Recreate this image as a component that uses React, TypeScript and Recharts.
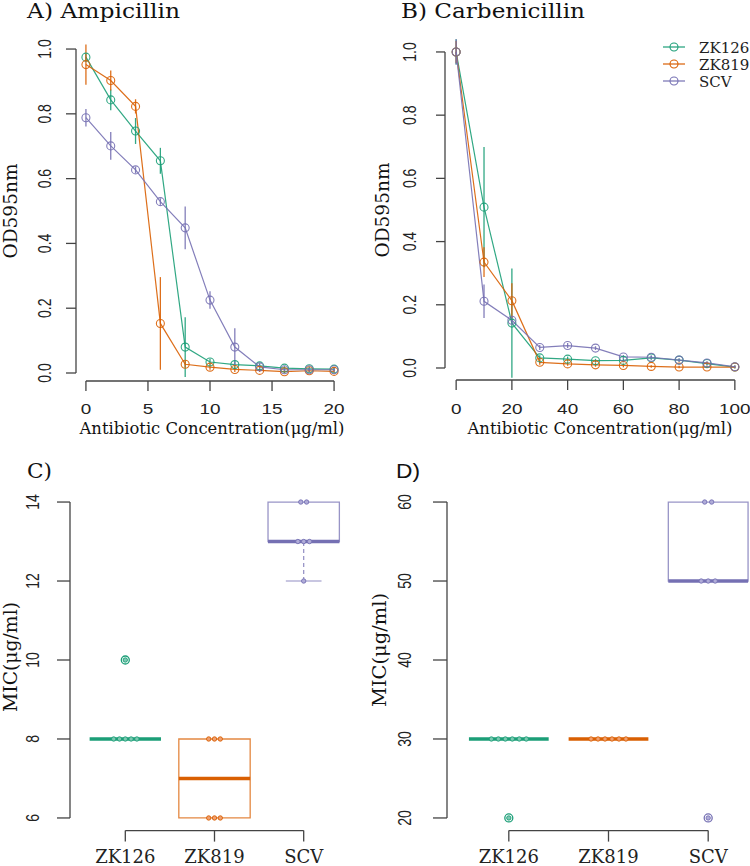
import React from "react";
import {
  LineChart,
  Line,
  XAxis,
  YAxis,
  ErrorBar,
  ReferenceLine,
  ReferenceArea,
  Legend,
  ComposedChart,
  Scatter,
} from "recharts";

const GREEN = "#1B9E77";
const ORANGE = "#D95F02";
const PURPLE = "#7570B3";
const AXIS = "#444";
const SANS = "'Liberation Sans', Arial, sans-serif";
const SERIF = "'DejaVu Serif', serif";

// A) Ampicillin
const ampConc = [0, 2, 4, 6, 8, 10, 12, 14, 16, 18, 20];
const ampZK126 = [0.975, 0.843, 0.747, 0.655, 0.08, 0.034, 0.026, 0.022, 0.015, 0.013, 0.012];
const ampZK126Err = [0.01, 0.032, 0.04, 0.04, 0.092, 0.01, 0.01, 0.008, 0.006, 0.006, 0.006];
const ampZK819 = [0.952, 0.903, 0.823, 0.153, 0.027, 0.018, 0.011, 0.008, 0.004, 0.007, 0.005];
const ampZK819Err = [0.062, 0.031, 0.022, 0.143, 0.01, 0.008, 0.008, 0.005, 0.005, 0.005, 0.005];
const ampSCV = [0.788, 0.701, 0.627, 0.529, 0.448, 0.225, 0.08, 0.019, 0.01, 0.01, 0.01];
const ampSCVErr = [0.027, 0.043, 0.01, 0.01, 0.066, 0.027, 0.058, 0.006, 0.005, 0.006, 0.006];

// B) Carbenicillin
const carbConc = [0, 10, 20, 30, 40, 50, 60, 70, 80, 90, 100];
const carbZK126 = [1.0, 0.509, 0.142, 0.032, 0.028, 0.023, 0.024, 0.032, 0.025, 0.014, 0.003];
const carbZK126Err = [0.04, 0.19, 0.173, 0.008, 0.008, 0.006, 0.006, 0.006, 0.005, 0.006, 0.005];
const carbZK819 = [1.0, 0.335, 0.213, 0.018, 0.013, 0.01, 0.008, 0.005, 0.003, 0.003, 0.003];
const carbZK819Err = [0.035, 0.047, 0.055, 0.008, 0.006, 0.006, 0.006, 0.004, 0.004, 0.004, 0.004];
const carbSCV = [1.0, 0.211, 0.151, 0.065, 0.071, 0.063, 0.035, 0.034, 0.025, 0.016, 0.004];
const carbSCVErr = [0.04, 0.053, 0.01, 0.008, 0.008, 0.006, 0.006, 0.006, 0.005, 0.005, 0.004];

// C) / D) MIC
const strains = ["ZK126", "ZK819", "SCV"];
const strainColors = [GREEN, ORANGE, PURPLE];
const dotFills = ["#7cc9b1", "#f0a070", "#b0acd8"];

const ampMicZK126 = [8, 8, 8, 8, 8, 10];
const ampMicZK819 = [8, 8, 8, 6, 6, 6];
const ampMicSCV = [14, 14, 13, 13, 13, 12];
const ampQ1 = [8, 6, 13];
const ampMedian = [8, 7, 13];
const ampQ3 = [8, 8, 14];
const ampWhiskerLow = [8, 6, 12];
const ampOutliers = [[10], [], []];

const carbMicZK126 = [30, 30, 30, 30, 30, 30, 20];
const carbMicZK819 = [30, 30, 30, 30, 30, 30];
const carbMicSCV = [60, 60, 50, 50, 50, 20];
const carbQ1 = [30, 30, 50];
const carbMedian = [30, 30, 50];
const carbQ3 = [30, 30, 60];
const carbWhiskerLow = [30, 30, 50];
const carbOutliers = [[20], [], [20]];

const ampTable = ampConc.map((x, i) => ({
  x,
  zk126: ampZK126[i],
  zk126Err: ampZK126Err[i],
  zk819: ampZK819[i],
  zk819Err: ampZK819Err[i],
  scv: ampSCV[i],
  scvErr: ampSCVErr[i],
}));

const carbTable = carbConc.map((x, i) => ({
  x,
  zk126: carbZK126[i],
  zk126Err: carbZK126Err[i],
  zk819: carbZK819[i],
  zk819Err: carbZK819Err[i],
  scv: carbSCV[i],
  scvErr: carbSCVErr[i],
}));

const series = [
  { key: "zk126", name: "ZK126", color: GREEN },
  { key: "zk819", name: "ZK819", color: ORANGE },
  { key: "scv", name: "SCV", color: PURPLE },
];

const XNumTick = ({ x, y, payload }: any) => (
  <text
    transform={`translate(${x},${y}) scale(1.35,1)`}
    textAnchor="middle"
    dy="0.71em"
    fontFamily={SANS}
    fontSize={14}
    fill="#222"
  >
    {payload.value}
  </text>
);

const makeYTick = (digits: number) => ({ x, y, payload }: any) => (
  <text
    transform={`translate(${x},${y}) rotate(-90) scale(1,1.25)`}
    textAnchor="middle"
    fontFamily={SANS}
    fontSize={14}
    fill="#222"
  >
    {Number(payload.value).toFixed(digits)}
  </text>
);

const CategoryTick = ({ x, y, payload }: any) => (
  <text x={x} y={y} dy="0.71em" textAnchor="middle" fontFamily={SERIF} fontSize={18} fill="#222">
    {strains[payload.value - 1]}
  </text>
);

const LegendBox = (props: any) => {
  const order = series.map((s) => s.name);
  const items = [...(props.payload || [])].sort(
    (a: any, b: any) => order.indexOf(a.value) - order.indexOf(b.value)
  );
  return (
    <svg width={90} height={54} style={{ display: "block", overflow: "visible" }}>
      {items.map((p: any, i: number) => (
        <g key={p.value}>
          <line x1={0} x2={22} y1={9 + i * 17} y2={9 + i * 17} stroke={p.color} strokeWidth={1.2} />
          <circle cx={11} cy={9 + i * 17} r={4} fill="none" stroke={p.color} strokeWidth={1.1} />
          <text x={36} y={14.5 + i * 17} fontFamily={SERIF} fontSize={15} fill="#222">
            {p.value}
          </text>
        </g>
      ))}
    </svg>
  );
};

function CurvePanel(props: any) {
  const { data, width, height, margin, yWidth, xHeight, xDomain, yDomain, xTicks, yTicks, ySize, xSize, yMargin, xMargin, legend } = props;
  return (
    <LineChart width={width} height={height} data={data} margin={margin}>
      <XAxis
        dataKey="x"
        type="number"
        domain={xDomain}
        ticks={xTicks}
        axisLine={false}
        tickLine={{ stroke: AXIS, strokeWidth: 1.3 }}
        tickSize={xSize}
        tickMargin={xMargin}
        height={xHeight}
        tick={<XNumTick />}
        interval={0}
      />
      <YAxis
        type="number"
        domain={yDomain}
        ticks={yTicks}
        axisLine={false}
        tickLine={{ stroke: AXIS, strokeWidth: 1.3 }}
        tickSize={ySize}
        tickMargin={yMargin}
        width={yWidth}
        tick={makeYTick(1)}
        interval={0}
        allowDataOverflow
      />
      <ReferenceLine
        segment={[{ x: xTicks[0], y: yDomain[0] }, { x: xTicks[xTicks.length - 1], y: yDomain[0] }]}
        stroke={AXIS}
        strokeWidth={1.3}
        ifOverflow="visible"
      />
      <ReferenceLine
        segment={[{ x: xDomain[0], y: yTicks[0] }, { x: xDomain[0], y: yTicks[yTicks.length - 1] }]}
        stroke={AXIS}
        strokeWidth={1.3}
        ifOverflow="visible"
      />
      {series.map((s) => (
        <Line
          key={s.key}
          dataKey={s.key}
          name={s.name}
          type="linear"
          stroke={s.color}
          strokeOpacity={0.9}
          strokeWidth={1.2}
          dot={{ r: 4, fill: "none", stroke: s.color, strokeWidth: 1.1, strokeOpacity: 0.9 }}
          activeDot={false}
          isAnimationActive={false}
        >
          <ErrorBar
            dataKey={s.key + "Err"}
            direction="y"
            width={0}
            stroke={s.color}
            strokeOpacity={0.9}
            strokeWidth={1.3}
            isAnimationActive={false}
          />
        </Line>
      ))}
      {legend && (
        <Legend
          layout="vertical"
          verticalAlign="top"
          align="right"
          content={<LegendBox />}
          wrapperStyle={{
            position: "absolute",
            top: 38,
            left: 288,
            right: "auto",
            bottom: "auto",
            width: 0,
            height: 0,
            overflow: "visible",
          }}
        />
      )}
    </LineChart>
  );
}

function swarm(values: number[], group: number, spacing: number) {
  const counts: Record<number, number> = {};
  values.forEach((v) => (counts[v] = (counts[v] || 0) + 1));
  const seen: Record<number, number> = {};
  return values.map((v) => {
    const k = (seen[v] = (seen[v] ?? -1) + 1);
    return { x: group + (k - (counts[v] - 1) / 2) * spacing, y: v };
  });
}

function BoxPanel(props: any) {
  const { width, height, margin, yWidth, xHeight, yDomain, yTicks, ySize, yMargin, values, q1, median, q3, whiskerLow, outliers, spacing } = props;
  const xDomain = [0.38, 3.62];
  const half = 0.4;
  return (
    <ComposedChart width={width} height={height} margin={margin}>
      <XAxis
        dataKey="x"
        type="number"
        domain={xDomain}
        ticks={[1, 2, 3]}
        axisLine={false}
        tickLine={{ stroke: AXIS, strokeWidth: 1.3 }}
        tickSize={11}
        tickMargin={9}
        height={xHeight}
        tick={<CategoryTick />}
        interval={0}
        allowDataOverflow
      />
      <YAxis
        dataKey="y"
        type="number"
        domain={yDomain}
        ticks={yTicks}
        axisLine={false}
        tickLine={{ stroke: AXIS, strokeWidth: 1.3 }}
        tickSize={ySize}
        tickMargin={yMargin}
        width={yWidth}
        tick={makeYTick(0)}
        interval={0}
        allowDataOverflow
      />
      <ReferenceLine
        segment={[{ x: 1, y: yDomain[0] }, { x: 3, y: yDomain[0] }]}
        stroke={AXIS}
        strokeWidth={1.3}
        ifOverflow="visible"
      />
      <ReferenceLine
        segment={[{ x: xDomain[0], y: yTicks[0] }, { x: xDomain[0], y: yTicks[yTicks.length - 1] }]}
        stroke={AXIS}
        strokeWidth={1.3}
        ifOverflow="visible"
      />
      {strains.map((s, i) =>
        q3[i] > q1[i] ? (
          <ReferenceArea
            key={"box" + s}
            x1={i + 1 - half}
            x2={i + 1 + half}
            y1={q1[i]}
            y2={q3[i]}
            fill="none"
            fillOpacity={0}
            stroke={strainColors[i]}
            strokeOpacity={0.75}
            strokeWidth={1.3}
            ifOverflow="visible"
          />
        ) : null
      )}
      {strains.map((s, i) =>
        whiskerLow[i] < q1[i] ? (
          <ReferenceLine
            key={"wh" + s}
            segment={[{ x: i + 1, y: whiskerLow[i] }, { x: i + 1, y: q1[i] }]}
            stroke={strainColors[i]}
            strokeOpacity={0.8}
            strokeWidth={1.2}
            strokeDasharray="4 3"
            ifOverflow="visible"
          />
        ) : null
      )}
      {strains.map((s, i) =>
        whiskerLow[i] < q1[i] ? (
          <ReferenceLine
            key={"st" + s}
            segment={[{ x: i + 1 - half / 2, y: whiskerLow[i] }, { x: i + 1 + half / 2, y: whiskerLow[i] }]}
            stroke={strainColors[i]}
            strokeOpacity={0.8}
            strokeWidth={1.2}
            ifOverflow="visible"
          />
        ) : null
      )}
      {strains.map((s, i) => (
        <ReferenceLine
          key={"med" + s}
          segment={[{ x: i + 1 - half, y: median[i] }, { x: i + 1 + half, y: median[i] }]}
          stroke={strainColors[i]}
          strokeWidth={3.5}
          ifOverflow="visible"
        />
      ))}
      {strains.map((s, i) => (
        <Scatter
          key={"out" + s}
          data={outliers[i].map((v: number) => ({ x: i + 1, y: v }))}
          isAnimationActive={false}
          shape={(p: any) => (
            <circle cx={p.cx} cy={p.cy} r={4} fill="none" stroke={strainColors[i]} strokeWidth={1.3} />
          )}
        />
      ))}
      {strains.map((s, i) => (
        <Scatter
          key={"pts" + s}
          data={swarm(values[i], i + 1, spacing)}
          isAnimationActive={false}
          shape={(p: any) => (
            <circle cx={p.cx} cy={p.cy} r={2.2} fill={dotFills[i]} stroke={strainColors[i]} strokeWidth={0.9} />
          )}
        />
      ))}
    </ComposedChart>
  );
}

export default function App() {
  const axisTitle = "Antibiotic Concentration(\u03bcg/ml)";
  const text = { fontFamily: SERIF, fill: "#111" } as const;
  return (
    <div style={{ position: "absolute", left: 0, top: 0, width: 750, height: 866, overflow: "hidden", background: "#fff" }}>
      <div style={{ position: "absolute", left: 0, top: 0 }}>
        <CurvePanel
          data={ampTable}
          width={375}
          height={430}
          margin={{ top: 39, right: 31, bottom: 0, left: 0 }}
          yWidth={76}
          xHeight={49}
          xDomain={[-0.8, 20.8]}
          yDomain={[-0.0247, 1.031]}
          xTicks={[0, 5, 10, 15, 20]}
          yTicks={[0, 0.2, 0.4, 0.6, 0.8, 1.0]}
          ySize={10}
          yMargin={15}
          xSize={10}
          xMargin={13}
        />
      </div>
      <div style={{ position: "absolute", left: 375, top: 0 }}>
        <CurvePanel
          data={carbTable}
          width={375}
          height={430}
          margin={{ top: 39, right: 4, bottom: 0, left: 0 }}
          yWidth={70}
          xHeight={50}
          xDomain={[-4, 104]}
          yDomain={[-0.038, 1.041]}
          xTicks={[0, 20, 40, 60, 80, 100]}
          yTicks={[0, 0.2, 0.4, 0.6, 0.8, 1.0]}
          ySize={9}
          yMargin={20}
          xSize={10}
          xMargin={14}
          legend
        />
      </div>
      <div style={{ position: "absolute", left: 0, top: 430 }}>
        <BoxPanel
          width={375}
          height={436}
          margin={{ top: 59.4, right: 16, bottom: 0, left: 0 }}
          yWidth={70}
          xHeight={35.4}
          yDomain={[5.68, 14.32]}
          yTicks={[6, 8, 10, 12, 14]}
          ySize={13}
          yMargin={18}
          values={[ampMicZK126, ampMicZK819, ampMicSCV]}
          q1={ampQ1}
          median={ampMedian}
          q3={ampQ3}
          whiskerLow={ampWhiskerLow}
          outliers={ampOutliers}
          spacing={0.065}
        />
      </div>
      <div style={{ position: "absolute", left: 375, top: 430 }}>
        <BoxPanel
          width={400}
          height={436}
          margin={{ top: 59.4, right: 5, bottom: 0, left: 0 }}
          yWidth={72}
          xHeight={35.4}
          yDomain={[18.4, 61.6]}
          yTicks={[20, 30, 40, 50, 60]}
          ySize={14}
          yMargin={22}
          values={[carbMicZK126, carbMicZK819, carbMicSCV]}
          q1={carbQ1}
          median={carbMedian}
          q3={carbQ3}
          whiskerLow={carbWhiskerLow}
          outliers={carbOutliers}
          spacing={0.07}
        />
      </div>
      <svg width={750} height={866} style={{ position: "absolute", left: 0, top: 0, pointerEvents: "none" }}>
        <text x={27} y={18} fontSize={20} textLength={153} lengthAdjust="spacingAndGlyphs" {...text}>A) Ampicillin</text>
        <text x={401} y={18} fontSize={20} textLength={184} lengthAdjust="spacingAndGlyphs" {...text}>B) Carbenicillin</text>
        <text x={27} y={478} fontSize={20} textLength={25} lengthAdjust="spacingAndGlyphs" {...text}>C)</text>
        <text x={396} y={478} fontSize={20} textLength={24} lengthAdjust="spacingAndGlyphs" fontFamily={SANS} fill="#111">D)</text>
        <text x={212} y={434} fontSize={16} textAnchor="middle" textLength={265} lengthAdjust="spacingAndGlyphs" {...text}>{axisTitle}</text>
        <text x={600} y={434} fontSize={16} textAnchor="middle" textLength={265} lengthAdjust="spacingAndGlyphs" {...text}>{axisTitle}</text>
        <text transform="translate(17,211) rotate(-90)" fontSize={19} textAnchor="middle" textLength={95} lengthAdjust="spacingAndGlyphs" {...text}>OD595nm</text>
        <text transform="translate(389,210) rotate(-90)" fontSize={19} textAnchor="middle" textLength={95} lengthAdjust="spacingAndGlyphs" {...text}>OD595nm</text>
        <text transform="translate(17,657) rotate(-90)" fontSize={19} textAnchor="middle" textLength={110} lengthAdjust="spacingAndGlyphs" {...text}>MIC(μg/ml)</text>
        <text transform="translate(386,650) rotate(-90)" fontSize={19} textAnchor="middle" textLength={114} lengthAdjust="spacingAndGlyphs" {...text}>MIC(μg/ml)</text>
      </svg>
    </div>
  );
}
